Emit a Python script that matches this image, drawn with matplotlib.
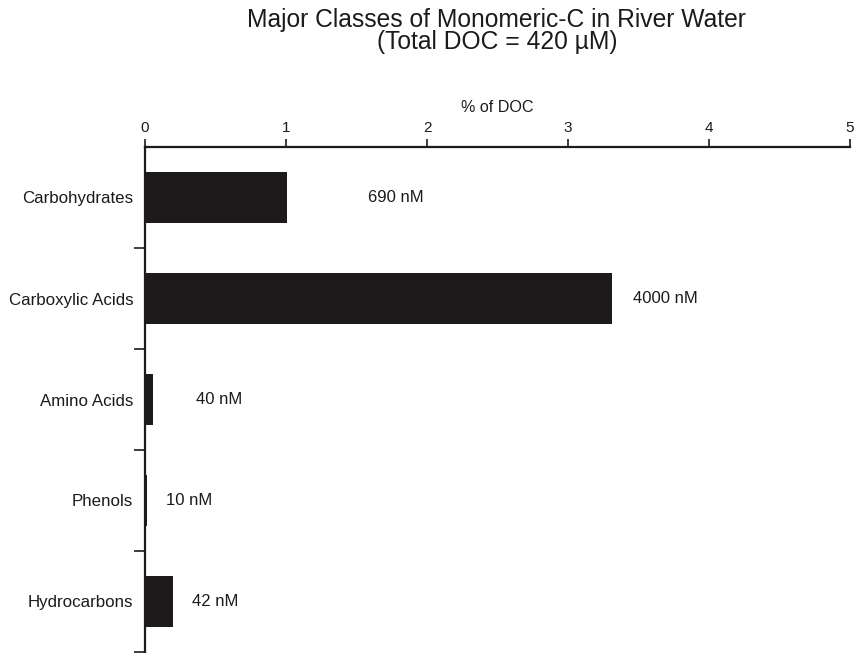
import matplotlib
matplotlib.use("Agg")
import matplotlib.pyplot as plt
import numpy as np

plt.rcParams['font.family'] = ['Liberation Sans', 'DejaVu Sans']

categories = ["Carbohydrates", "Carboxylic Acids", "Amino Acids", "Phenols", "Hydrocarbons"]
pct_doc = [1.01, 3.31, 0.055, 0.015, 0.197]
conc_labels = ["690 nM", "4000 nM", "40 nM", "10 nM", "42 nM"]
label_x = [1.58, 3.46, 0.36, 0.15, 0.33]
x_ticks = [0, 1, 2, 3, 4, 5]

ink = "#1c1a1b"

fig = plt.figure(figsize=(8.55, 6.53), dpi=100)
ax = fig.add_axes([145 / 855, 1 / 653, 705 / 855, 505 / 653])

ypos = np.arange(len(categories)) + 0.5
ax.barh(ypos, pct_doc, height=0.5, color=ink, left=0)

for y, xl, txt in zip(ypos, label_x, conc_labels):
    ax.text(xl, y, txt, ha="left", va="center", fontsize=12, color=ink)

ax.set_xlim(0, 5)
ax.set_ylim(len(categories), 0)

ax.xaxis.tick_top()
ax.xaxis.set_label_position("top")
ax.set_xticks(x_ticks)
ax.set_xticklabels([str(t) for t in x_ticks])
ax.tick_params(axis="x", direction="out", length=6, width=1.2, color=ink,
               labelsize=11, labelcolor=ink, pad=3)
ax.set_xlabel("% of DOC", fontsize=11.6, color=ink, labelpad=6)

ax.set_yticks(ypos)
ax.set_yticklabels(categories)
ax.tick_params(axis="y", which="major", length=0, labelsize=12.2, labelcolor=ink, pad=8.5)
ax.set_yticks(np.arange(1, len(categories) + 1), minor=True)
ax.tick_params(axis="y", which="minor", direction="out", length=8, width=1.2, color=ink)

for side in ["right", "bottom"]:
    ax.spines[side].set_visible(False)
for side in ["top", "left"]:
    ax.spines[side].set_linewidth(1.6)
    ax.spines[side].set_color(ink)

fig.text(0.581, 0.988, "Major Classes of Monomeric-C in River Water\n(Total DOC = 420 \u00b5M)",
         ha="center", va="top", fontsize=17.7, color=ink, linespacing=0.92)

fig.savefig("out.png", dpi=100)
